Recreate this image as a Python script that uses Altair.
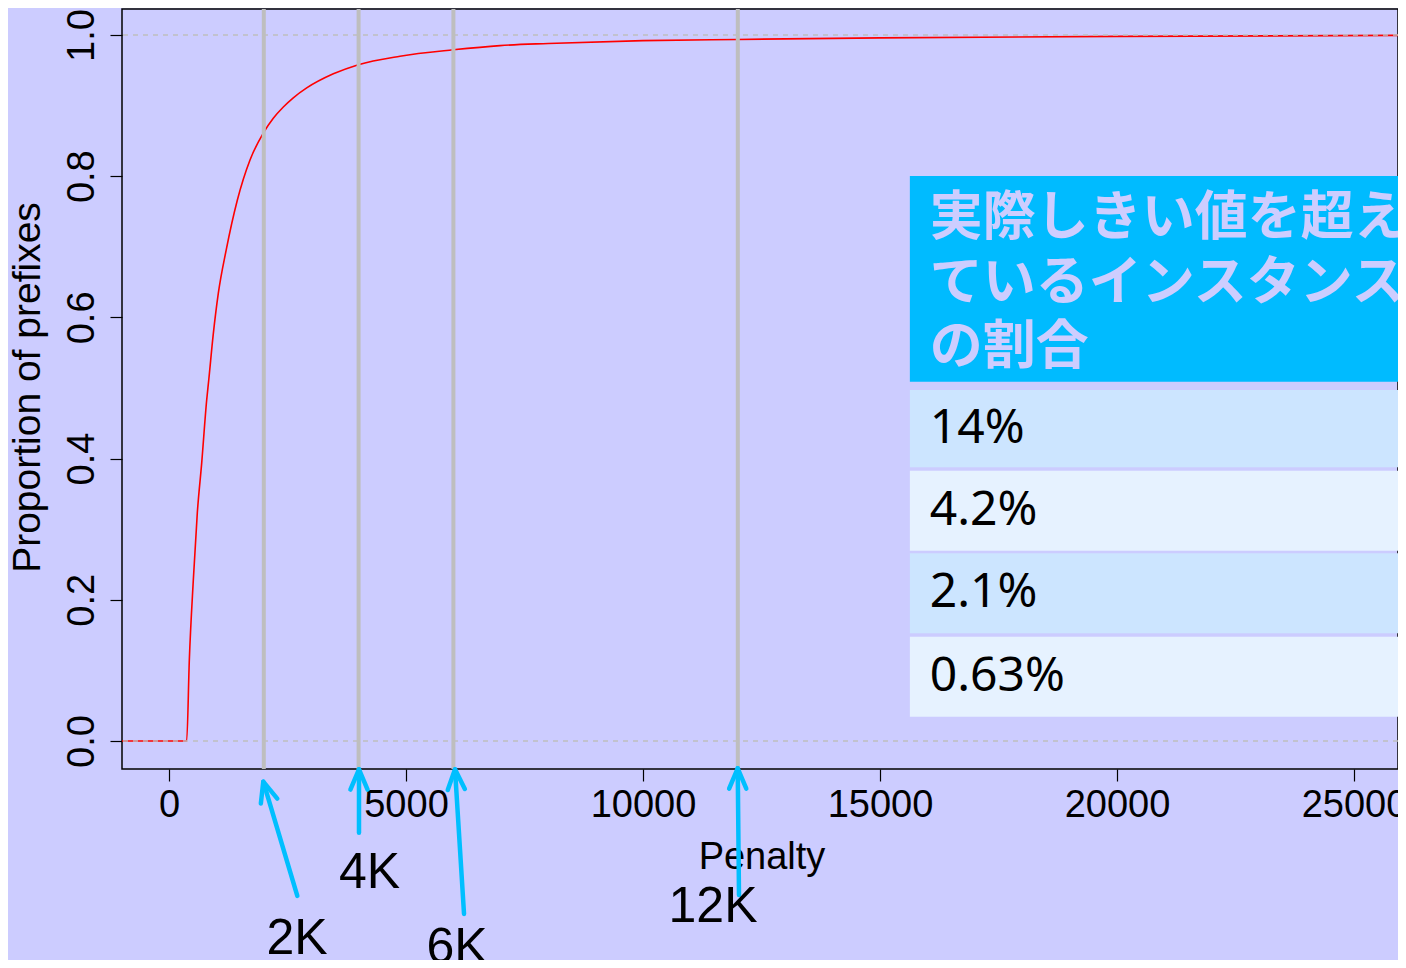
import altair as alt
import pandas as pd

# ---------------- data ----------------
penalty = [-992, 373, 429, 513, 597, 690, 795, 838, 935, 1040, 1205, 1441, 1709,
           1989, 2200, 2412, 2622, 2905, 3467, 3994, 4873, 5998, 6983, 8000,
           10000, 12000, 15000, 20000, 25928]
proportion = [0.0, 0.0, 0.115, 0.228, 0.323, 0.394, 0.483, 0.511, 0.577, 0.634,
              0.695, 0.766, 0.823, 0.861, 0.882, 0.898, 0.911, 0.925, 0.945,
              0.958, 0.970, 0.979, 0.985, 0.988, 0.992, 0.9937, 0.996, 0.998, 0.9995]
threshold_x = [2000, 4000, 6000, 12000]
threshold_labels = ["2K", "4K", "6K", "12K"]
exceed_pct = ["14%", "4.2%", "2.1%", "0.63%"]
header_lines = ["実際しきい値を超え", "ているインスタンス", "の割合"]
x_ticks = [0, 5000, 10000, 15000, 20000, 25000]
y_ticks = [0.0, 0.2, 0.4, 0.6, 0.8, 1.0]
ref_levels = [0.0, 1.0]

# ---------------- layout (data units) ----------------
X_MIN, X_MAX = -991.6, 25928
Y_MIN, Y_MAX = -0.03966, 1.03683
arrow_tip_x = [1989, 4008, 6034, 11998]
arrow_tip_y = [-0.0576, -0.0401, -0.0401, -0.0387]
arrow_tail_x = [2707, 4008, 6224, 12025]
arrow_tail_y = [-0.2195, -0.1299, -0.2450, -0.2181]
arrow_angle = [343.4, 0, 356.4, 0]
label_x = [2700, 4230, 6076, 11477]
label_y = [-0.2805, -0.1863, -0.2932, -0.2351]
TABLE_X0, TABLE_X1 = 15630, 27500
TEXT_X = 16050
header_box = (0.8003, 0.5089)
row_boxes = [(0.4972, 0.3877), (0.3829, 0.2695), (0.2659, 0.1525), (0.1477, 0.0344)]
row_fills = ["#CCE5FF", "#E6F2FF", "#CCE5FF", "#E6F2FF"]
header_line_y = [0.7390, 0.6470, 0.5563]

BG = "#CCCCFF"
BLUE = "#00BFFF"
GRAY = "#BEBEBE"
FONT = "Liberation Sans"

xs = alt.Scale(domain=[X_MIN, X_MAX], nice=False, zero=False)
ys = alt.Scale(domain=[Y_MIN, Y_MAX], nice=False, zero=False)

x_axis = alt.Axis(values=x_ticks, title="Penalty", format="d", domain=False, grid=False,
                  tickSize=12, tickColor="black", tickWidth=1.2,
                  labelFont=FONT, labelFontSize=38, labelColor="black", labelPadding=5,
                  labelFlush=False, labelOverlap=False,
                  titleFont=FONT, titleFontSize=38, titleFontWeight="normal", titleColor="black",
                  titleBaseline="alphabetic", titleAlign="center", titleX=639.5, titleY=99)
y_axis = alt.Axis(values=y_ticks, format=".1f", title="Proportion of prefixes", domain=False, grid=False,
                  tickSize=12, tickColor="black", tickWidth=1.2,
                  labelFont=FONT, labelFontSize=38, labelColor="black", labelAngle=270,
                  labelAlign="center", labelBaseline="alphabetic", labelPadding=17,
                  labelFlush=False, labelOverlap=False,
                  titleFont=FONT, titleFontSize=39, titleFontWeight="normal", titleColor="black",
                  titleAngle=270, titleAlign="center", titleBaseline="alphabetic",
                  titleX=-83, titleY=378)

curve_df = pd.DataFrame({"x": penalty, "y": proportion})
curve = alt.Chart(curve_df).mark_line(color="#FF0000", strokeWidth=1.6, interpolate="monotone").encode(
    x=alt.X("x:Q", scale=xs, axis=x_axis),
    y=alt.Y("y:Q", scale=ys, axis=y_axis),
)

ref_df = pd.DataFrame({"y": ref_levels})
ref_lines = alt.Chart(ref_df).mark_rule(color=GRAY, strokeDash=[5, 5], strokeWidth=1.5).encode(
    y=alt.Y("y:Q", scale=ys)
)

vl_df = pd.DataFrame({"x": threshold_x})
vlines = alt.Chart(vl_df).mark_rule(color=GRAY, strokeWidth=4).encode(
    x=alt.X("x:Q", scale=xs)
)

# table
boxes = [header_box] + row_boxes
tbl_df = pd.DataFrame({
    "x": [TABLE_X0] * len(boxes),
    "x2": [TABLE_X1] * len(boxes),
    "y": [b[0] for b in boxes],
    "y2": [b[1] for b in boxes],
    "fill": ["#00BBFF"] + row_fills,
})
table_rects = alt.Chart(tbl_df).mark_rect().encode(
    x=alt.X("x:Q", scale=xs), x2="x2:Q",
    y=alt.Y("y:Q", scale=ys), y2="y2:Q",
    fill=alt.Fill("fill:N", scale=None),
)

hdr_df = pd.DataFrame({"x": [TEXT_X] * 3, "y": header_line_y, "t": header_lines})
hdr_text = alt.Chart(hdr_df).mark_text(
    align="left", baseline="middle", font="Noto Sans CJK JP", fontSize=53, fontWeight="bold", color="#CDCDFF"
).encode(x=alt.X("x:Q", scale=xs), y=alt.Y("y:Q", scale=ys), text="t:N")

row_df = pd.DataFrame({
    "x": [TEXT_X] * 4,
    "y": [(a + b) / 2 for a, b in row_boxes],
    "t": exceed_pct,
})
row_text = alt.Chart(row_df).mark_text(
    align="left", baseline="middle", font="Noto Sans", fontSize=48, color="black"
).encode(x=alt.X("x:Q", scale=xs), y=alt.Y("y:Q", scale=ys), text="t:N")

# arrows
arr_df = pd.DataFrame({"x": arrow_tail_x, "y": arrow_tail_y, "x2": arrow_tip_x, "y2": arrow_tip_y,
                       "angle": arrow_angle})
shafts = alt.Chart(arr_df).mark_rule(color=BLUE, strokeWidth=4.5, strokeCap="round").encode(
    x=alt.X("x:Q", scale=xs), y=alt.Y("y:Q", scale=ys), x2="x2:Q", y2="y2:Q"
)
head_df = pd.DataFrame({"x": arrow_tip_x, "y": arrow_tip_y, "angle": arrow_angle})
heads = alt.Chart(head_df).mark_point(
    shape="M -0.39 0.92 L 0 0 L 0.39 0.92", filled=False, size=1936, color=BLUE,
    strokeWidth=4.5, strokeCap="round", strokeJoin="round", opacity=1
).encode(
    x=alt.X("x:Q", scale=xs), y=alt.Y("y:Q", scale=ys),
    angle=alt.Angle("angle:Q", scale=None),
)
lab_df = pd.DataFrame({"x": label_x, "y": label_y, "t": threshold_labels})
labels = alt.Chart(lab_df).mark_text(
    align="center", baseline="middle", font=FONT, fontSize=50, color="black"
).encode(x=alt.X("x:Q", scale=xs), y=alt.Y("y:Q", scale=ys), text="t:N")

chart = alt.layer(
    curve, ref_lines, vlines, table_rects, hdr_text, row_text, shafts, heads, labels
).properties(
    width=1276, height=760,
    autosize=alt.AutoSizeParams(type="none"),
    padding={"left": 114, "top": 1, "right": 0, "bottom": 191},
    background=BG,
).configure_view(
    stroke="black", strokeWidth=1.5, fill=BG
)

chart.save("out.html", embed_options={"renderer": "svg", "actions": False})
